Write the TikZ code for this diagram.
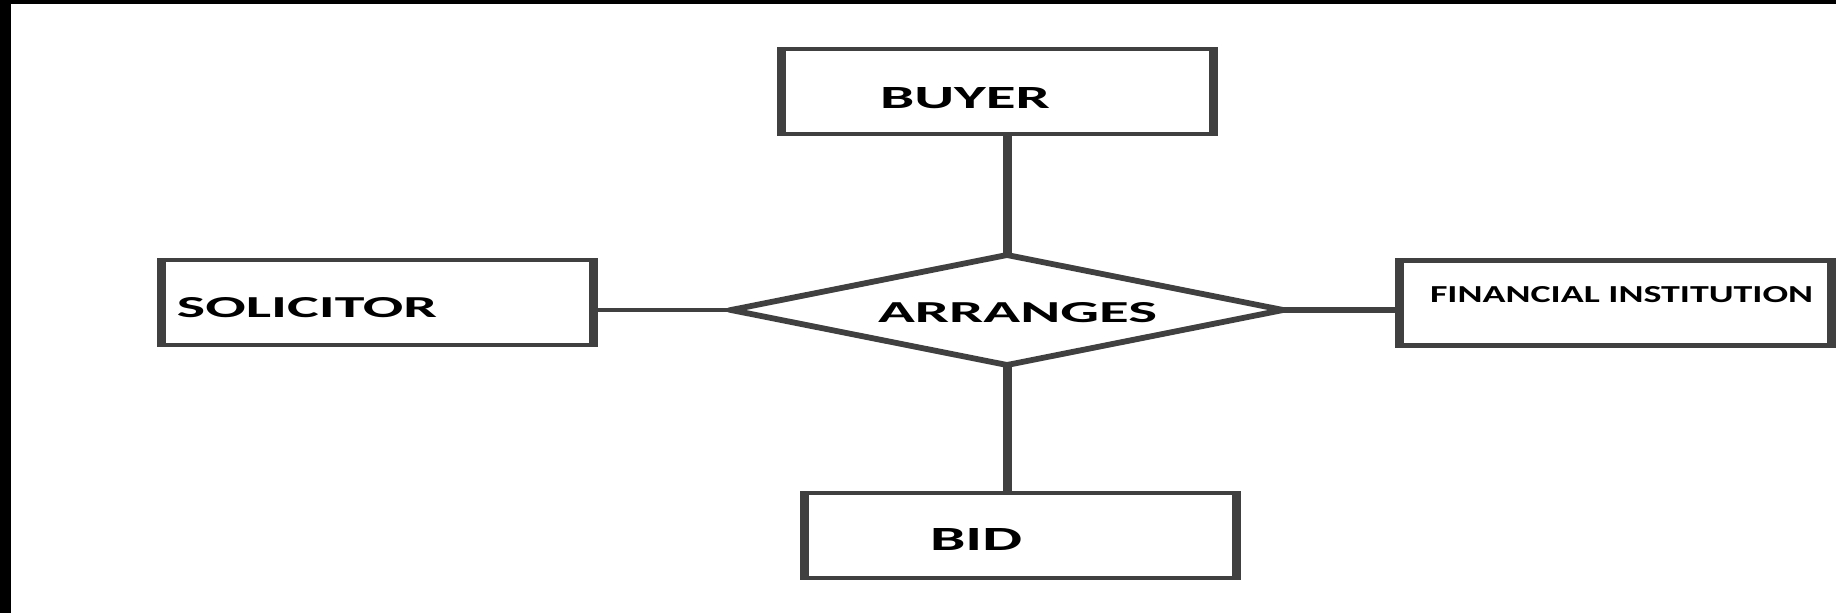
\documentclass[tikz,border=0pt]{standalone}
\usepackage{fontspec}
\setmainfont{Carlito}
\usetikzlibrary{shapes.geometric}
\definecolor{linegrey}{RGB}{64,64,64}
\newcommand{\erlabel}[3]{\resizebox{#1pt}{#2pt}{\bfseries #3}}
\tikzset{
    entity/.style={draw=linegrey, rectangle, line width=4.5pt, minimum width=216pt, minimum height=85pt, inner sep=0pt},
    relation/.style={draw=linegrey, diamond, line width=5.5pt, line join=round, minimum width=276pt, minimum height=110pt, inner sep=0pt, outer sep=0pt},
    lbl/.style={inner sep=0pt, text=black},
    link/.style={draw=linegrey, line width=4.5pt}
}

\begin{document}
\begin{tikzpicture}[x=1pt, y=-1pt]
    \fill[white] (0,0) rectangle (1836,613);
    \fill[black] (0,0) rectangle (1836,4);
    \fill[black] (0,0) rectangle (11,613);
    \useasboundingbox (0,0) rectangle (1836,613);
    \begin{scope}[transform canvas={xscale=2}, x=0.5pt]
        \node[entity] (buyer) at (997.5,91.5) {};
        \node[entity] (solicitor) at (377,302.5) {};
        \node[entity] (bid) at (1020.5,535.5) {};
        \node[entity] (fininst) at (1615,303) {};
        \node[relation] (arranges) at (1007,310) {};

        \node[lbl] (buyerlbl) at (965,98.5) {\erlabel{85}{21}{BUYER}};
        \node[lbl] (solicitorlbl) at (307,308) {\erlabel{130}{20}{SOLICITOR}};
        \node[lbl] (bidlbl) at (976,539) {\erlabel{46}{22}{BID}};
        \node[lbl] (fininstlbl) at (1621.5,295) {\erlabel{191.5}{16}{FINANCIAL INSTITUTION}};
        \node[lbl] (arrangeslbl) at (1017.5,313) {\erlabel{139.5}{20}{ARRANGES}};

        \draw[link] (arranges.north) -- (arranges.north |- buyer.south);
        \draw[link] (arranges.south) -- (arranges.south |- bid.north);
        \draw[link, line width=4pt] (arranges.west) -- (arranges.west -| solicitor.east);
        \draw[link, line width=6pt] (arranges.east) -- (arranges.east -| fininst.west);
    \end{scope}
\end{tikzpicture}
\end{document}
